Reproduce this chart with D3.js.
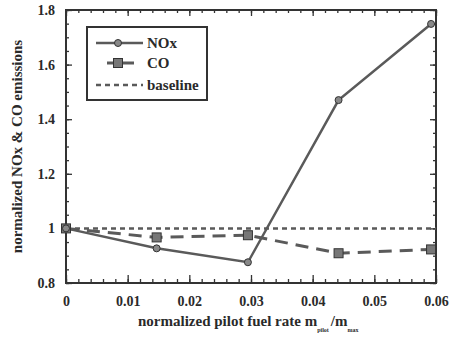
<!DOCTYPE html>
<html>
<head>
<meta charset="utf-8">
<script src="https://cdn.jsdelivr.net/npm/d3@7"></script>
<style>
  body { margin: 0; background: #fff; }
  svg text { font-family: "Liberation Serif", "DejaVu Serif", serif !important; font-weight: 700; }
</style>
</head>
<body>
<svg id="chart" width="451" height="340"></svg>
<script>
// Normalized pilot fuel rate (m_pilot / m_max)
const pilotRate = [0, 0.0147, 0.0295, 0.0442, 0.0592];
// Normalized emissions
const noxValues = [1.0, 0.927, 0.876, 1.470, 1.749];
const coValues = [1.0, 0.967, 0.975, 0.909, 0.923];
const baselineValue = 1.0;

const xTicks = [0, 0.01, 0.02, 0.03, 0.04, 0.05, 0.06];
const xTickLabels = ["0", "0.01", "0.02", "0.03", "0.04", "0.05", "0.06"];
const yTicks = [0.8, 1.0, 1.2, 1.4, 1.6, 1.8];
const yTickLabels = ["0.8", "1", "1.2", "1.4", "1.6", "1.8"];
const legendLabels = ["NOx", "CO", "baseline"];

const svg = d3.select("#chart");
const ink = "#333";
const lineInk = "#5a5a5a";
const textInk = "#2a2a2a";

const x = d3.scaleLinear().domain([0, 0.06]).range([66, 436]);
const y = d3.scaleLinear().domain([0.8, 1.8]).range([283, 10]);

const xMinor = d3.range(0, 0.0601, 0.002);
const yMinor = d3.range(0.8, 1.8001, 0.05);

function styleAxis(g) {
  g.attr("font-family", null);
  g.select(".domain").remove();
  g.selectAll(".tick line").attr("stroke", ink).attr("stroke-width", 1.3);
  g.selectAll(".tick text").attr("font-size", 14).attr("fill", textInk);
}

// Bottom axis: inward ticks with labels
svg.append("g").attr("transform", `translate(0,${y.range()[0]})`)
  .call(d3.axisBottom(x).tickValues(xMinor).tickSize(-4).tickFormat(""))
  .call(styleAxis);
svg.append("g").attr("transform", `translate(0,${y.range()[0]})`)
  .call(d3.axisBottom(x).tickValues(xTicks).tickSize(-8).tickPadding(13)
    .tickFormat((d, i) => xTickLabels[i]))
  .call(styleAxis);

// Top axis: inward ticks
svg.append("g").attr("transform", `translate(0,${y.range()[1]})`)
  .call(d3.axisTop(x).tickValues(xMinor).tickSize(-3).tickFormat(""))
  .call(styleAxis);
svg.append("g").attr("transform", `translate(0,${y.range()[1]})`)
  .call(d3.axisTop(x).tickValues(xTicks).tickSize(-6).tickFormat(""))
  .call(styleAxis);

// Left axis
svg.append("g").attr("transform", `translate(${x.range()[0]},0)`)
  .call(d3.axisLeft(y).tickValues(yMinor).tickSize(-3).tickFormat(""))
  .call(styleAxis);
svg.append("g").attr("transform", `translate(${x.range()[0]},0)`)
  .call(d3.axisLeft(y).tickValues(yTicks).tickSize(-6).tickPadding(11)
    .tickFormat((d, i) => yTickLabels[i]))
  .call(styleAxis);

// Right axis
svg.append("g").attr("transform", `translate(${x.range()[1]},0)`)
  .call(d3.axisRight(y).tickValues(yMinor).tickSize(-3).tickFormat(""))
  .call(styleAxis);
svg.append("g").attr("transform", `translate(${x.range()[1]},0)`)
  .call(d3.axisRight(y).tickValues(yTicks).tickSize(-6).tickFormat(""))
  .call(styleAxis);

// Frame
svg.append("rect")
  .attr("x", x.range()[0]).attr("y", y.range()[1])
  .attr("width", x.range()[1] - x.range()[0])
  .attr("height", y.range()[0] - y.range()[1])
  .attr("fill", "none").attr("stroke", ink).attr("stroke-width", 2);

// Baseline
svg.append("line")
  .attr("x1", x(0)).attr("x2", x(0.06))
  .attr("y1", y(baselineValue)).attr("y2", y(baselineValue))
  .attr("stroke", lineInk).attr("stroke-width", 2.5)
  .attr("stroke-dasharray", "5,4");

const line = d3.line().x((d, i) => x(pilotRate[i])).y(d => y(d));

// CO series
svg.append("path").datum(coValues)
  .attr("d", line).attr("fill", "none")
  .attr("stroke", lineInk).attr("stroke-width", 3)
  .attr("stroke-dasharray", "13,8");

// NOx series
svg.append("path").datum(noxValues)
  .attr("d", line).attr("fill", "none")
  .attr("stroke", lineInk).attr("stroke-width", 2.5);

function noxMarker(g, cx, cy) {
  g.append("circle").attr("cx", cx).attr("cy", cy).attr("r", 3.5)
    .attr("fill", "#888").attr("stroke", ink).attr("stroke-width", 1);
}
function coMarker(g, cx, cy) {
  g.append("rect").attr("x", cx - 4.5).attr("y", cy - 4.5)
    .attr("width", 9).attr("height", 9)
    .attr("fill", "#777").attr("stroke", ink).attr("stroke-width", 1);
}

const marks = svg.append("g");
coValues.forEach((v, i) => coMarker(marks, x(pilotRate[i]), y(v)));
noxValues.forEach((v, i) => noxMarker(marks, x(pilotRate[i]), y(v)));

// Legend
const legend = svg.append("g");
legend.append("rect")
  .attr("x", 87).attr("y", 27).attr("width", 120).attr("height", 73)
  .attr("fill", "#fff").attr("stroke", ink).attr("stroke-width", 2);
const rowsY = [43, 63, 85];
// NOx row
legend.append("line").attr("x1", 96).attr("x2", 143).attr("y1", rowsY[0]).attr("y2", rowsY[0])
  .attr("stroke", lineInk).attr("stroke-width", 2.5);
noxMarker(legend, 118, rowsY[0]);
// CO row
legend.append("line").attr("x1", 107).attr("x2", 141).attr("y1", rowsY[1]).attr("y2", rowsY[1])
  .attr("stroke", lineInk).attr("stroke-width", 3).attr("stroke-dasharray", "7,7,13,7");
coMarker(legend, 118, rowsY[1]);
// Baseline row
legend.append("line").attr("x1", 96).attr("x2", 143).attr("y1", rowsY[2]).attr("y2", rowsY[2])
  .attr("stroke", lineInk).attr("stroke-width", 2.5).attr("stroke-dasharray", "5,4");
legendLabels.forEach((t, i) => {
  legend.append("text").attr("x", 147).attr("y", rowsY[i] + 5)
    .attr("fill", textInk).attr("font-size", 15).text(t);
});

// Axis titles
svg.append("text")
  .attr("transform", `translate(22,${(y.range()[0] + y.range()[1]) / 2}) rotate(-90)`)
  .attr("text-anchor", "middle").attr("font-size", 15).attr("fill", textInk)
  .text("normalized NOx & CO emissions");

const xTitle = svg.append("text").attr("x", 138).attr("y", 326).attr("font-size", 15)
  .attr("fill", textInk);
xTitle.append("tspan").text("normalized pilot fuel rate m");
xTitle.append("tspan").attr("font-size", 6).attr("dy", 6).text("pilot");
xTitle.append("tspan").attr("font-size", 15).attr("dy", -6).attr("dx", 2).text("/m");
xTitle.append("tspan").attr("font-size", 6).attr("dy", 6).text("max");
</script>
</body>
</html>
